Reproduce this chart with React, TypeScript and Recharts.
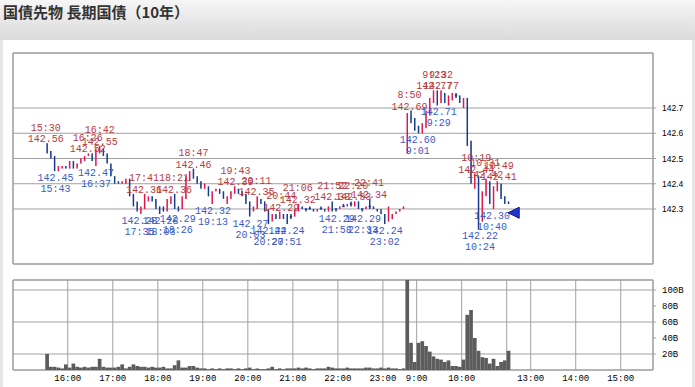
import { ComposedChart, Bar, Scatter, XAxis, YAxis, CartesianGrid, ReferenceArea } from 'recharts';

// 5-minute candles, [open, high, low, close]. night session starts 15:30
const nightOHLC: number[][] = [
  [142.56, 142.56, 142.52, 142.53], [142.53, 142.53, 142.5, 142.51], [142.51, 142.51, 142.45, 142.46], [142.46, 142.47, 142.45, 142.47],
  [142.46, 142.47, 142.46, 142.47], [142.47, 142.47, 142.46, 142.46], [142.46, 142.49, 142.46, 142.48], [142.48, 142.49, 142.46, 142.47],
  [142.47, 142.48, 142.46, 142.48], [142.48, 142.5, 142.48, 142.5], [142.5, 142.51, 142.49, 142.51], [142.51, 142.52, 142.51, 142.52],
  [142.52, 142.52, 142.49, 142.5], [142.49, 142.54, 142.47, 142.53], [142.53, 142.55, 142.52, 142.54], [142.54, 142.54, 142.51, 142.52],
  [142.52, 142.52, 142.48, 142.48], [142.48, 142.48, 142.43, 142.43], [142.43, 142.43, 142.4, 142.41], [142.41, 142.41, 142.4, 142.4],
  [142.4, 142.41, 142.4, 142.41], [142.4, 142.42, 142.4, 142.42], [142.42, 142.42, 142.35, 142.36], [142.36, 142.36, 142.31, 142.32],
  [142.32, 142.33, 142.29, 142.3], [142.29, 142.31, 142.28, 142.3], [142.3, 142.36, 142.3, 142.34], [142.34, 142.35, 142.33, 142.35],
  [142.35, 142.35, 142.33, 142.34], [142.34, 142.34, 142.3, 142.31], [142.31, 142.31, 142.28, 142.3], [142.3, 142.31, 142.29, 142.29],
  [142.29, 142.34, 142.29, 142.33], [142.33, 142.35, 142.32, 142.34], [142.34, 142.36, 142.3, 142.31], [142.31, 142.31, 142.29, 142.3],
  [142.3, 142.35, 142.3, 142.34], [142.34, 142.43, 142.34, 142.42], [142.42, 142.45, 142.41, 142.44], [142.44, 142.46, 142.42, 142.43],
  [142.43, 142.43, 142.4, 142.41], [142.41, 142.41, 142.38, 142.39], [142.39, 142.4, 142.38, 142.4], [142.39, 142.39, 142.35, 142.36],
  [142.35, 142.37, 142.32, 142.36], [142.37, 142.38, 142.37, 142.38], [142.38, 142.38, 142.36, 142.37], [142.37, 142.37, 142.34, 142.34],
  [142.34, 142.35, 142.32, 142.35], [142.35, 142.37, 142.34, 142.37], [142.37, 142.39, 142.36, 142.38], [142.38, 142.38, 142.36, 142.37],
  [142.37, 142.37, 142.35, 142.36], [142.36, 142.36, 142.32, 142.33], [142.33, 142.33, 142.27, 142.29], [142.29, 142.31, 142.29, 142.3],
  [142.3, 142.35, 142.3, 142.34], [142.34, 142.34, 142.32, 142.33], [142.33, 142.33, 142.29, 142.3], [142.3, 142.3, 142.24, 142.26],
  [142.26, 142.28, 142.25, 142.27], [142.27, 142.28, 142.26, 142.26], [142.26, 142.29, 142.26, 142.28], [142.28, 142.28, 142.26, 142.27],
  [142.28, 142.28, 142.24, 142.27], [142.27, 142.28, 142.26, 142.27], [142.27, 142.3, 142.27, 142.3], [142.3, 142.32, 142.29, 142.31],
  [142.31, 142.31, 142.3, 142.3], [142.3, 142.3, 142.29, 142.3], [142.3, 142.31, 142.3, 142.3], [142.3, 142.3, 142.29, 142.29],
  [142.29, 142.3, 142.29, 142.3], [142.3, 142.31, 142.3, 142.3], [142.3, 142.3, 142.29, 142.29], [142.29, 142.31, 142.29, 142.31],
  [142.31, 142.33, 142.29, 142.3], [142.3, 142.3, 142.29, 142.3], [142.3, 142.31, 142.3, 142.31], [142.31, 142.32, 142.31, 142.31],
  [142.31, 142.32, 142.31, 142.32], [142.32, 142.33, 142.31, 142.32], [142.31, 142.33, 142.31, 142.33], [142.33, 142.33, 142.3, 142.3],
  [142.3, 142.3, 142.29, 142.3], [142.3, 142.31, 142.3, 142.31], [142.31, 142.34, 142.3, 142.31], [142.31, 142.31, 142.3, 142.3],
  [142.3, 142.3, 142.29, 142.29], [142.29, 142.3, 142.28, 142.28], [142.28, 142.28, 142.24, 142.25], [142.25, 142.31, 142.25, 142.27],
  [142.26, 142.28, 142.26, 142.28], [142.28, 142.29, 142.28, 142.29], [142.29, 142.3, 142.29, 142.3], [142.3, 142.31, 142.3, 142.31],
];

// day session starts 8:45
const dayOHLC: number[][] = [
  [142.55, 142.68, 142.52, 142.67], [142.67, 142.69, 142.64, 142.65], [142.65, 142.66, 142.61, 142.62], [142.62, 142.63, 142.6, 142.61],
  [142.61, 142.64, 142.6, 142.63], [142.63, 142.69, 142.62, 142.68], [142.68, 142.74, 142.67, 142.73], [142.73, 142.77, 142.72, 142.76],
  [142.76, 142.77, 142.71, 142.73], [142.73, 142.77, 142.72, 142.76], [142.76, 142.76, 142.72, 142.73], [142.73, 142.75, 142.71, 142.74],
  [142.74, 142.76, 142.73, 142.75], [142.75, 142.76, 142.74, 142.75], [142.75, 142.75, 142.72, 142.73], [142.71, 142.74, 142.7, 142.73],
  [142.73, 142.74, 142.55, 142.57], [142.57, 142.57, 142.4, 142.43], [142.41, 142.44, 142.38, 142.43], [142.43, 142.43, 142.22, 142.26],
  [142.26, 142.37, 142.25, 142.36], [142.36, 142.42, 142.35, 142.41], [142.41, 142.41, 142.32, 142.34], [142.34, 142.39, 142.3, 142.38],
  [142.38, 142.41, 142.37, 142.4], [142.4, 142.4, 142.34, 142.35], [142.35, 142.35, 142.32, 142.33], [142.33, 142.33, 142.32, 142.32],
];

const nightVolume = [
  20, 4, 4, 3, 2, 7, 3, 8, 4, 3, 4, 3, 4, 4, 14, 4, 3, 3, 3, 4,
  7, 2, 4, 7, 5, 4, 4, 3, 4, 3, 3, 4, 2, 2, 6, 12, 3, 3, 5, 5,
  3, 2, 2, 1, 2, 1, 2, 1, 2, 2, 1, 2, 1, 2, 3, 1, 2, 1, 1, 2,
  4, 1, 2, 1, 2, 2, 2, 3, 2, 3, 2, 1, 2, 2, 2, 4, 3, 2, 2, 2,
  3, 2, 2, 2, 2, 3, 3, 2, 2, 3, 2, 3, 2, 2, 1, 2,
];

const dayVolume = [
  125, 34, 10, 34, 36, 30, 23, 17, 14, 13, 10, 12, 5, 5, 4, 13, 69, 75, 40, 24,
  16, 15, 8, 14, 5, 10, 12, 24,
];

const highs: [string, number][] = [
  ['15:30', 142.56], ['16:26', 142.52], ['16:42', 142.55], ['17:41', 142.36], ['18:21', 142.36],
  ['18:47', 142.46], ['19:43', 142.39], ['20:11', 142.35], ['20:44', 142.29], ['21:06', 142.32],
  ['21:52', 142.33], ['22:20', 142.33], ['22:41', 142.34], ['8:50', 142.69], ['9:23', 142.77],
  ['9:32', 142.77], ['10:19', 142.44], ['10:31', 142.42], ['10:49', 142.41],
];

const lows: [string, number][] = [
  ['15:43', 142.45], ['16:37', 142.47], ['17:35', 142.28], ['18:03', 142.28], ['18:26', 142.29],
  ['19:13', 142.32], ['20:03', 142.27], ['20:27', 142.24], ['20:51', 142.24], ['21:58', 142.29],
  ['22:33', 142.29], ['23:02', 142.24], ['9:01', 142.6], ['9:29', 142.71], ['10:24', 142.22],
  ['10:40', 142.3],
];

const lastMark = { time: '11:02', price: 142.285 };

const xTickTimes = ['16:00', '17:00', '18:00', '19:00', '20:00', '21:00', '22:00', '23:00', '9:00', '10:00', '11:00', '13:00', '14:00', '15:00'];
const xTickLabels = ['16:00', '17:00', '18:00', '19:00', '20:00', '21:00', '22:00', '23:00', '9:00', '10:00', '', '13:00', '14:00', '15:00'];
const priceTicks = [142.3, 142.4, 142.5, 142.6, 142.7];
const volumeTicks = [20, 40, 60, 80, 100];

const UP = '#e3184b';
const DOWN = '#1a3c90';
const GRID = '#a0a0a0';
const X_DOMAIN: [number, number] = [-43, 810];
const PRICE_DOMAIN: [number, number] = [142.082, 142.918];

// compressed session clock: 15:30 -> 0, 23:30 == 8:45 -> 480, 11:02 == 12:30 -> 617
function toT(s: string) {
  const [h, m] = s.split(':').map(Number);
  const mins = h * 60 + m;
  if (mins >= 930) return mins - 930;
  if (mins <= 662) return 480 + mins - 525;
  return 617 + mins - 750;
}

function fmt(mins: number) {
  return `${Math.floor(mins / 60)}:${String(mins % 60).padStart(2, '0')}`;
}

const candles = [
  ...nightOHLC.map((r, i) => ({ time: fmt(930 + i * 5), o: r[0], h: r[1], l: r[2], c: r[3], vol: nightVolume[i] })),
  ...dayOHLC.map((r, i) => ({ time: fmt(525 + i * 5), o: r[0], h: r[1], l: r[2], c: r[3], vol: dayVolume[i] })),
].map((d) => ({ ...d, x: toT(d.time) + 2.5 }));

const extremes = [
  ...highs.map(([time, p]) => ({ time, p, kind: 'high', x: toT(time) + 0.5, y: p })),
  ...lows.map(([time, p]) => ({ time, p, kind: 'low', x: toT(time) + 0.5, y: p })),
];

const xTicks = xTickTimes.map(toT);
const tickLabelOf = (v: number) => xTickLabels[xTicks.indexOf(v)] ?? '';

const Candle = (props: any) => {
  const { x, y, width, height, payload } = props;
  if (x == null || y == null) return <g />;
  const { o, h, l, c } = payload;
  const top = Math.min(y, y + height);
  const span = Math.abs(height);
  const k = h > l ? span / (h - l) : 0;
  const yOf = (v: number) => top + (h - v) * k;
  const cx = x + width / 2;
  if (Math.abs(c - o) < 0.001) {
    const yy = yOf(o);
    return (
      <g>
        <line x1={cx} x2={cx} y1={top} y2={top + span} stroke={DOWN} strokeWidth={1.5} />
        <line x1={x - 1} x2={x + width + 1} y1={yy} y2={yy} stroke={DOWN} strokeWidth={1.5} />
      </g>
    );
  }
  const color = c > o ? UP : DOWN;
  const bTop = yOf(Math.max(o, c));
  const bBot = yOf(Math.min(o, c));
  return (
    <g>
      <line x1={cx} x2={cx} y1={top} y2={top + span} stroke={color} strokeWidth={1.5} />
      <rect x={x} y={bTop} width={width} height={Math.max(1.5, bBot - bTop)} fill={color} />
    </g>
  );
};

const labelFont = { fontFamily: '"Liberation Mono", monospace', fontSize: 10 };

const Extreme = (props: any) => {
  const { cx, cy, payload } = props;
  const price = payload.p.toFixed(2);
  if (payload.kind === 'high') {
    return (
      <g fill="#b83a3e">
        <text x={cx} y={cy - 12.5} textAnchor="middle" {...labelFont}>{payload.time}</text>
        <text x={cx} y={cy - 1} textAnchor="middle" {...labelFont}>{price}</text>
      </g>
    );
  }
  return (
    <g fill="#3a5bc8">
      <text x={cx} y={cy + 10} textAnchor="middle" {...labelFont}>{price}</text>
      <text x={cx} y={cy + 21} textAnchor="middle" {...labelFont}>{payload.time}</text>
    </g>
  );
};

const Marker = (props: any) => {
  const { cx, cy } = props;
  return <polygon points={`${cx},${cy} ${cx + 11},${cy - 5.5} ${cx + 11},${cy + 5.5}`} fill="#1f33d8" stroke="#0c1670" strokeWidth={1} />;
};

export default function App() {
  return (
    <div style={{ position: 'absolute', left: 0, top: 0, width: 695, height: 387, background: '#e6e6e6', overflow: 'hidden' }}>
      <div style={{ position: 'absolute', left: 0, top: 0, width: 695, height: 40, background: 'linear-gradient(#f6f6f6, #dadada)' }} />
      <div
        style={{
          position: 'absolute', left: 3, top: 4, fontSize: 15, lineHeight: '16px', fontWeight: 'bold', color: '#333',
          fontFamily: '"Noto Sans CJK JP", sans-serif',
        }}
      >
        国債先物 長期国債（10年）
      </div>
      <div style={{ position: 'absolute', left: 3, top: 40, width: 689, height: 347, background: '#fff' }} />

      <div style={{ position: 'absolute', left: 0, top: 0 }}>
        <ComposedChart width={695} height={270} data={candles} margin={{ top: 53, right: 0, bottom: 6, left: 13 }}>
          <CartesianGrid stroke={GRID} />
          <XAxis type="number" dataKey="x" domain={X_DOMAIN} ticks={xTicks} allowDataOverflow tick={false} tickLine={false} axisLine={false} height={0} />
          <YAxis
            orientation="right"
            domain={PRICE_DOMAIN}
            ticks={priceTicks}
            allowDataOverflow
            width={42}
            axisLine={false}
            tickSize={3}
            tickMargin={6}
            tickLine={{ stroke: GRID }}
            tick={{ fontSize: 8.5, fill: '#000', fontFamily: '"Liberation Sans", sans-serif' }}
            tickFormatter={(v: number) => v.toFixed(1)}
          />
          <ReferenceArea x1={X_DOMAIN[0]} x2={X_DOMAIN[1]} y1={PRICE_DOMAIN[0]} y2={PRICE_DOMAIN[1]} fill="none" stroke="#999" ifOverflow="visible" />
          <Bar dataKey={(d: any) => [d.l, d.h]} barSize={3.7} shape={Candle} isAnimationActive={false} />
          <Scatter data={extremes} dataKey="y" shape={Extreme} isAnimationActive={false} />
          <Scatter data={[{ x: toT(lastMark.time), y: lastMark.price }]} dataKey="y" shape={Marker} isAnimationActive={false} />
        </ComposedChart>
      </div>

      <div style={{ position: 'absolute', left: 0, top: 270 }}>
        <ComposedChart width={695} height={117} data={candles} margin={{ top: 10, right: 0, bottom: 0, left: 13 }}>
          <CartesianGrid stroke={GRID} />
          <XAxis
            type="number"
            dataKey="x"
            domain={X_DOMAIN}
            ticks={xTicks}
            interval={0}
            allowDataOverflow
            height={17}
            axisLine={false}
            tickLine={false}
            tickSize={3}
            tickMargin={2}
            tick={{ fontSize: 9, fill: '#000', fontFamily: '"Liberation Mono", monospace' }}
            tickFormatter={tickLabelOf}
          />
          <YAxis
            orientation="right"
            domain={[0, 112.5]}
            ticks={volumeTicks}
            allowDataOverflow
            width={42}
            axisLine={false}
            tickSize={3}
            tickMargin={6}
            tickLine={{ stroke: GRID }}
            tick={{ fontSize: 9, fill: '#000', fontFamily: '"Liberation Mono", monospace' }}
            tickFormatter={(v: number) => `${v}B`}
          />
          <ReferenceArea x1={X_DOMAIN[0]} x2={X_DOMAIN[1]} y1={0} y2={112.5} fill="none" stroke="#999" ifOverflow="visible" />
          <Bar dataKey="vol" barSize={3.7} fill="#5c5c5c" isAnimationActive={false} />
        </ComposedChart>
      </div>
    </div>
  );
}
